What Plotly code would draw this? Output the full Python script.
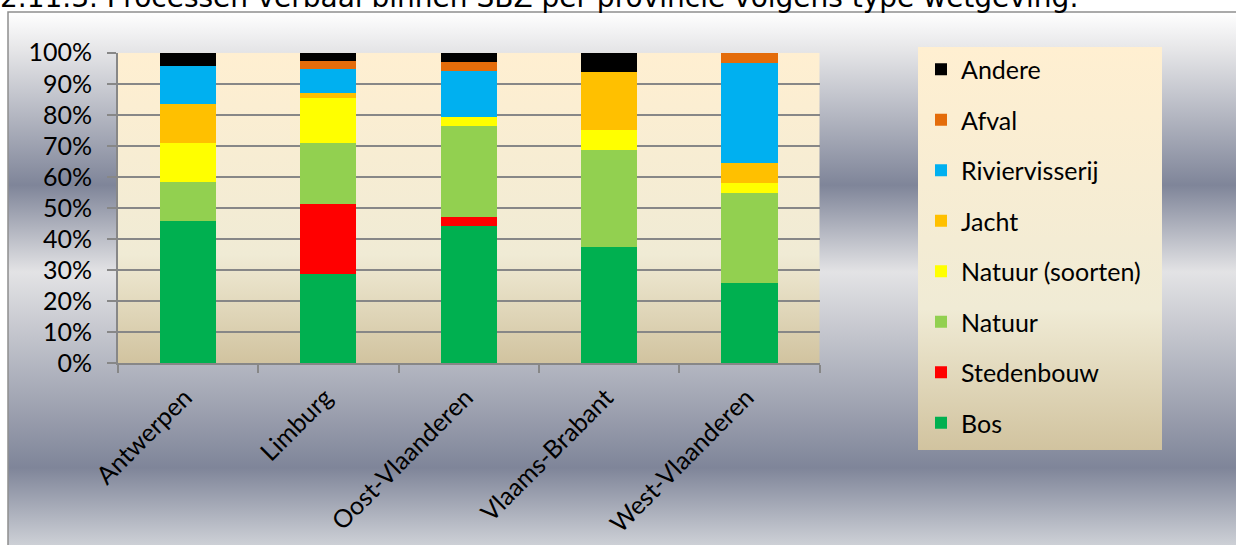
import base64
import plotly.graph_objects as go

W, H = 1236, 545

provinces = ["Antwerpen", "Limburg", "Oost-Vlaanderen", "Vlaams-Brabant", "West-Vlaanderen"]

bos = [45.83, 28.8, 44.12, 37.5, 25.81]
stedenbouw = [0, 22.4, 2.94, 0, 0]
natuur = [12.5, 19.7, 29.41, 31.25, 29.03]
natuur_soorten = [12.5, 14.6, 2.94, 6.25, 3.23]
jacht = [12.5, 1.4, 0, 18.75, 6.45]
riviervisserij = [12.5, 7.7, 14.71, 0, 32.26]
afval = [0, 2.7, 2.94, 0, 3.23]
andere = [4.17, 2.7, 2.94, 6.25, 0]

series_names = ["Bos", "Stedenbouw", "Natuur", "Natuur (soorten)", "Jacht",
                "Riviervisserij", "Afval", "Andere"]
series_values = [bos, stedenbouw, natuur, natuur_soorten, jacht,
                 riviervisserij, afval, andere]
series_colors = ["#00B050", "#FF0000", "#92D050", "#FFFF00", "#FFC000",
                 "#00B0F0", "#E46C0A", "#000000"]

y_ticks = list(range(0, 101, 10))
y_tick_labels = [f"{v}%" for v in y_ticks]

title_text = "2.11.3. Processen-verbaal binnen SBZ per provincie volgens type wetgeving:"


def px_x(x):
    return x / W


def px_y(y):
    return 1 - y / H


def grad_uri(stops):
    st = "".join(f'<stop offset="{o}" stop-color="{c}"/>' for o, c in stops)
    svg = ('<svg xmlns="http://www.w3.org/2000/svg" width="100" height="100" '
           'viewBox="0 0 100 100" preserveAspectRatio="none"><defs>'
           '<linearGradient id="g" x1="0" y1="0" x2="0" y2="1">' + st +
           '</linearGradient></defs><rect width="100" height="100" fill="url(#g)"/></svg>')
    return "data:image/svg+xml;base64," + base64.b64encode(svg.encode()).decode()


silver = [(0, "#FFFFFF"), (0.07, "#E6E6E8"), (0.325, "#7F8599"),
          (0.488, "#E3E3E5"), (0.855, "#7F8599"), (1, "#CDD0D6")]
parchment = [(0, "#FFEFD1"), (0.65, "#F0EBD5"), (1, "#D1C39F")]

# plot area pixel box
PL, PR, PT, PB = 117.7, 819.7, 52.7, 363.3

fig = go.Figure()
n = len(series_names)
for i, (name, vals, col) in enumerate(zip(series_names, series_values, series_colors)):
    fig.add_trace(go.Bar(
        x=provinces, y=vals, name=name, legendgroup=name, legendrank=n - i,
        marker=dict(color=col, line=dict(width=0)),
    ))

images = [
    dict(source=grad_uri(silver), xref="paper", yref="paper",
         x=px_x(8), y=px_y(12), sizex=px_x(1240 - 8), sizey=(H - 12) / H,
         xanchor="left", yanchor="top", sizing="stretch", layer="below"),
    dict(source=grad_uri(parchment), xref="paper", yref="paper",
         x=px_x(PL), y=px_y(PT), sizex=(PR - PL) / W, sizey=(PB - PT) / H,
         xanchor="left", yanchor="top", sizing="stretch", layer="below"),
    dict(source=grad_uri(parchment), xref="paper", yref="paper",
         x=px_x(918), y=px_y(47), sizex=(1162 - 918) / W, sizey=(450 - 47) / H,
         xanchor="left", yanchor="top", sizing="stretch", layer="below"),
]

shapes = [
    dict(type="rect", xref="paper", yref="paper", x0=px_x(8), x1=1.02,
         y0=-0.02, y1=px_y(12), line=dict(color="#8E8E8E", width=1.5),
         fillcolor="rgba(0,0,0,0)", layer="below"),
]

axis_col = "#878787"
fig.update_layout(
    width=W, height=H, autosize=False,
    margin=dict(l=0, r=0, t=0, b=0, pad=0, autoexpand=False),
    paper_bgcolor="white", plot_bgcolor="rgba(0,0,0,0)",
    barmode="stack", bargap=0.6,
    font=dict(family="Lato", size=25, color="#000000"),
    images=images, shapes=shapes,
    xaxis=dict(domain=[px_x(PL), px_x(PR)], showline=True, linecolor=axis_col,
               linewidth=1.5, ticks="outside", tickson="boundaries", ticklen=8,
               tickcolor=axis_col, tickwidth=1.5, tickangle=-45, showgrid=False,
               automargin=False, ticklabelstandoff=8, ticklabelshift=-3,
               tickfont=dict(family="Lato", size=25, color="#000000")),
    yaxis=dict(domain=[px_y(PB), px_y(PT)], range=[0, 100], tickmode="array",
               tickvals=y_ticks, ticktext=y_tick_labels,
               showline=True, linecolor=axis_col, linewidth=1.5,
               ticks="outside", ticklen=9, tickcolor=axis_col, tickwidth=1.5,
               showgrid=True, gridcolor=axis_col, gridwidth=1.5, zeroline=False,
               ticklabelstandoff=10, automargin=False,
               tickfont=dict(family="Lato", size=25, color="#000000")),
    legend=dict(x=px_x(921), xanchor="left", y=px_y(46.5), yanchor="top",
                bgcolor="rgba(0,0,0,0)", borderwidth=0,
                traceorder="grouped", tracegroupgap=15,
                font=dict(family="Lato", size=25, color="#000000")),
    annotations=[dict(text=title_text, xref="paper", yref="paper", x=0, y=px_y(16),
                      xanchor="left", yanchor="bottom", showarrow=False, xshift=-2,
                      font=dict(family="DejaVu Sans", size=28, color="#000000"))],
)

fig.write_html("out.html", config={"displayModeBar": False},
               post_script="document.body.style.margin='0';document.body.style.overflow='hidden';")
